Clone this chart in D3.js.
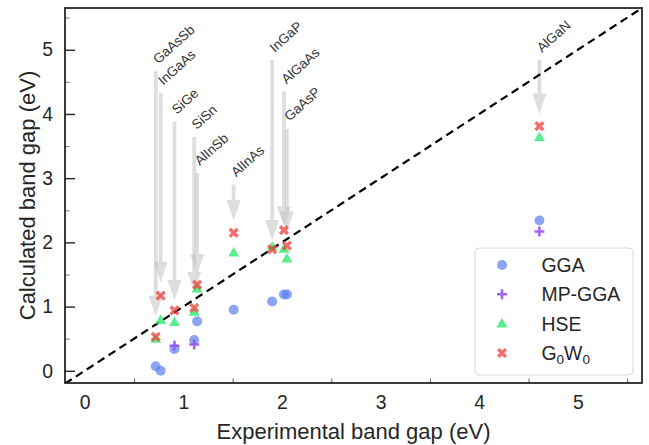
<!DOCTYPE html>
<html><head><meta charset="utf-8">
<script src="https://cdn.jsdelivr.net/npm/d3@7"></script>
<style>body{margin:0;background:#fff}svg{display:block}text{font-family:"Liberation Sans",Arial,sans-serif}</style>
</head><body><svg id="c" width="649" height="445"></svg>
<script>
const materials = ["GaAsSb","InGaAs","SiGe","SiSn","AlInSb","AlInAs","InGaP","AlGaAs","GaAsP","AlGaN"];
const expGap    = [0.72, 0.77, 0.91, 1.11, 1.14, 1.51, 1.90, 2.02, 2.05, 4.61];
const ggaGap    = [0.07, 0.00, 0.34, 0.48, 0.77, 0.95, 1.08, 1.19, 1.19, 2.34];
const mpggaGap  = [null, null, 0.39, 0.41, null, null, null, null, null, 2.17];
const hseGap    = [0.50, 0.79, 0.76, 0.92, 1.28, 1.84, 1.93, 1.90, 1.75, 3.64];
const g0w0Gap   = [0.53, 1.17, 0.94, 0.98, 1.34, 2.15, 1.89, 2.19, 1.95, 3.81];
const labelY    = [4.66, 4.33, 3.88, 3.64, 3.08, 2.90, 4.84, 4.35, 3.77, 4.84];
const arrowTip  = [0.85, 1.38, 1.10, 1.22, 1.50, 2.34, 2.03, 2.24, 2.16, 4.00];
const xTicks = [0,1,2,3,4,5];
const yTicks = [0,1,2,3,4,5];
const legendNames = ["GGA","MP-GGA","HSE","G0W0"];

const svg = d3.select("#c");
const X0=65, X1=642, Y0=8, Y1=383;
const x = d3.scaleLinear().domain([-0.2,5.65]).range([X0,X1]);
const y = d3.scaleLinear().domain([-0.19,5.65]).range([Y1,Y0]);

svg.append("defs").append("clipPath").attr("id","clip")
  .append("rect").attr("x",X0).attr("y",Y0).attr("width",X1-X0).attr("height",Y1-Y0);

// arrows
const arrowG = svg.append("g").attr("clip-path","url(#clip)");
materials.forEach((m,i)=>{
  const ax = x(expGap[i]), yt = y(labelY[i]), yb = y(arrowTip[i]);
  const hl = 20.5, hw = 7, lw = 1.9;
  const p = d3.path();
  p.moveTo(ax-lw, yt); p.lineTo(ax+lw, yt); p.lineTo(ax+lw, yb-hl);
  p.lineTo(ax+hw, yb-hl); p.lineTo(ax, yb); p.lineTo(ax-hw, yb-hl);
  p.lineTo(ax-lw, yb-hl); p.closePath();
  arrowG.append("path").attr("d",p.toString()).attr("fill","#c2c2c2").attr("fill-opacity",0.55);
});

// labels
materials.forEach((m,i)=>{
  const tx = x(expGap[i])+2.5, ty = y(labelY[i])-7;
  svg.append("text").attr("transform",`translate(${tx},${ty}) rotate(-42)`)
    .attr("font-size",13.5).attr("fill","#333").text(m);
});

// diagonal
svg.append("g").attr("clip-path","url(#clip)").append("line")
  .attr("x1",x(-0.2)).attr("y1",y(-0.2)).attr("x2",x(5.65)).attr("y2",y(5.65))
  .attr("stroke","#000").attr("stroke-width",2.2).attr("stroke-dasharray","8,5");

// markers
function xPath(cx,cy){
  const L=5.5,t=1.7,c=Math.SQRT1_2;
  const pts=[[t,L],[t,t],[L,t],[L,-t],[t,-t],[t,-L],[-t,-L],[-t,-t],[-L,-t],[-L,t],[-t,t],[-t,L]];
  return "M"+pts.map(([a,b])=>[cx+(a-b)*c, cy+(a+b)*c].join(",")).join("L")+"Z";
}
const tri = d3.symbol().type(d3.symbolTriangle).size(52);
function drawGGA(g,cx,cy){g.append("circle").attr("cx",cx).attr("cy",cy).attr("r",5).attr("fill","#5b7fee").attr("fill-opacity",0.7);}
function drawMP(g,cx,cy){g.append("path").attr("d",`M${cx-5},${cy}H${cx+5}M${cx},${cy-5}V${cy+5}`).attr("stroke","#9d52ee").attr("stroke-width",2.6).attr("stroke-opacity",0.9);}
function drawHSE(g,cx,cy){g.append("path").attr("d",tri()).attr("transform",`translate(${cx},${cy+0.8})`).attr("fill","#2ee870").attr("fill-opacity",0.8);}
function drawG0(g,cx,cy){g.append("path").attr("d",xPath(cx,cy)).attr("fill","#f03c3c").attr("fill-opacity",0.75);}

const pg = svg.append("g");
materials.forEach((m,i)=>{ if(ggaGap[i]!=null) drawGGA(pg,x(expGap[i]),y(ggaGap[i])); });
materials.forEach((m,i)=>{ if(mpggaGap[i]!=null) drawMP(pg,x(expGap[i]),y(mpggaGap[i])); });
materials.forEach((m,i)=>{ if(hseGap[i]!=null) drawHSE(pg,x(expGap[i]),y(hseGap[i])); });
materials.forEach((m,i)=>{ if(g0w0Gap[i]!=null) drawG0(pg,x(expGap[i]),y(g0w0Gap[i])); });

// axes
const xAxis = d3.axisBottom(x).tickValues(xTicks).tickSize(0).tickPadding(12).tickFormat(d3.format("d"));
const gx = svg.append("g").attr("transform",`translate(0,${Y1})`).call(xAxis);
gx.select(".domain").remove();
gx.selectAll("text").attr("font-size",19.4).attr("fill","#262626").attr("font-family","Liberation Sans, Arial, sans-serif");
const xMinor = d3.axisBottom(x).tickValues(xTicks.map(d=>d+0.5)).tickSize(-4.5).tickFormat("");
const gxm = svg.append("g").attr("transform",`translate(0,${Y1})`).call(xMinor);
gxm.select(".domain").remove(); gxm.selectAll("line").attr("stroke","#777").attr("stroke-width",1.2);

const yAxis = d3.axisLeft(y).tickValues(yTicks).tickSize(-10).tickPadding(12).tickFormat(d3.format("d"));
const gy = svg.append("g").attr("transform",`translate(${X0},0)`).call(yAxis);
gy.select(".domain").remove();
gy.selectAll("line").attr("stroke","#262626").attr("stroke-width",1.4);
gy.selectAll("text").attr("font-size",19.4).attr("fill","#262626").attr("font-family","Liberation Sans, Arial, sans-serif");
const yMinor = d3.axisLeft(y).tickValues(yTicks.map(d=>d+0.5)).tickSize(-4.5).tickFormat("");
const gym = svg.append("g").attr("transform",`translate(${X0},0)`).call(yMinor);
gym.select(".domain").remove(); gym.selectAll("line").attr("stroke","#888").attr("stroke-width",1.2);

// frame
svg.append("rect").attr("x",X0).attr("y",Y0).attr("width",X1-X0).attr("height",Y1-Y0)
  .attr("fill","none").attr("stroke","#262626").attr("stroke-width",1.8);

// axis titles
svg.append("text").attr("x",(X0+X1)/2).attr("y",439).attr("text-anchor","middle")
  .attr("font-size",22).attr("fill","#262626").text("Experimental band gap (eV)");
svg.append("text").attr("transform",`translate(35,${(Y0+Y1)/2}) rotate(-90)`).attr("text-anchor","middle")
  .attr("font-size",22).attr("fill","#262626").text("Calculated band gap (eV)");

// legend
const lg = svg.append("g");
lg.append("rect").attr("x",475).attr("y",248).attr("width",158).attr("height",127).attr("rx",4)
  .attr("fill","#fff").attr("fill-opacity",0.8).attr("stroke","#d8d8d8").attr("stroke-width",1);
const rows=[265,294.3,323.6,353];
const drawers=[drawGGA,drawMP,drawHSE,drawG0];
legendNames.forEach((n,i)=>{
  drawers[i](lg,502,rows[i]);
  const t = lg.append("text").attr("x",541.5).attr("y",rows[i]+7).attr("font-size",19.4).attr("fill","#262626");
  if(n==="G0W0"){
    t.append("tspan").text("G");
    t.append("tspan").attr("font-size",13.5).attr("dy",4).text("0");
    t.append("tspan").attr("dy",-4).text("W");
    t.append("tspan").attr("font-size",13.5).attr("dy",4).text("0");
  } else t.text(n);
});
</script></body></html>
